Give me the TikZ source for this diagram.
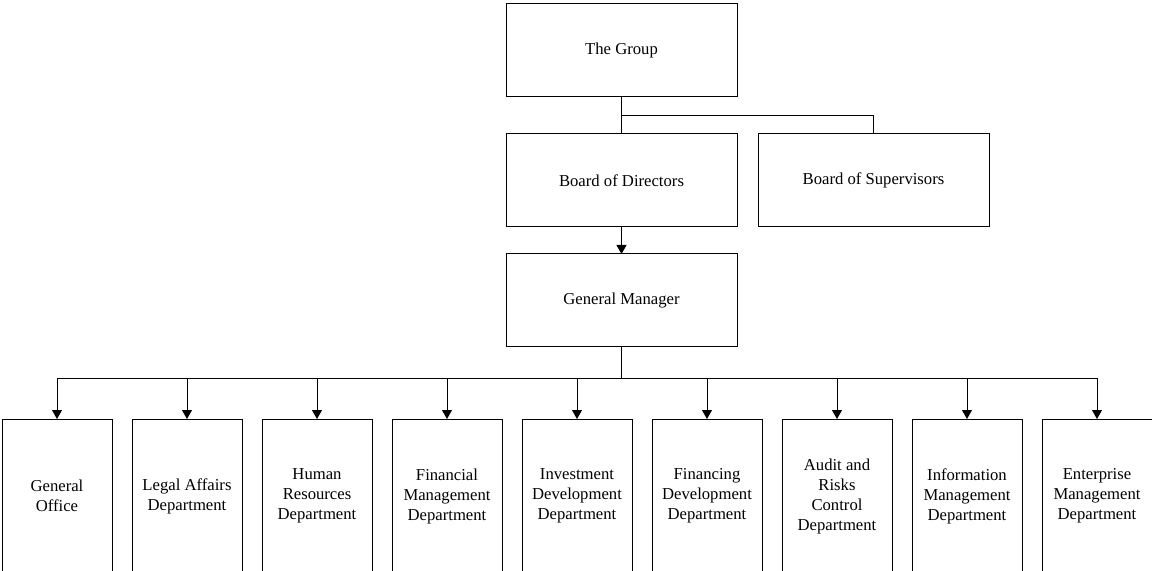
\documentclass[tikz,border=0pt]{standalone}
\usepackage{fontspec}
\setmainfont{Liberation Serif}
\usetikzlibrary{
    arrows.meta,
    calc,
    positioning
}
\tikzset{
    every picture/.style = {
        > = {Triangle[length = 5.4pt, width = 6pt]},
        line width = 0.6pt
    },
    every node/.style = {
        outer sep = 0pt,
        align = center
    },
    box/.style = {
        draw,
        minimum width = 138.6pt,
        minimum height = 55.8pt
    },
    dept/.style = {
        draw,
        inner sep = 0pt,
        minimum width = 66pt,
        minimum height = 92.4pt
    }
}

\begin{document}
\begin{tikzpicture}[x = 0.6pt, y = -0.6pt, node font = \fontsize{10}{12}\selectfont]
    \clip (0,0) rectangle (1152,571);

    \node[box] (group) at (621.5,50.5) {The Group};
    \node[box] [below = 22.2pt of group] (directors) {Board of Directors};
    \node[box] [right = 12.6pt of directors] (supervisors) {Board of Supervisors};
    \node[box] [below = 16.2pt of directors] (manager) {General Manager};

    \node[dept] (office) at (57,496) {General\\Office};
    \node[dept] [right = 12pt of office] (legal) {Legal Affairs\\Department};
    \node[dept] [right = 12pt of legal] (hr) {Human\\Resources\\Department};
    \node[dept] [right = 12pt of hr] (finance) {Financial\\Management\\Department};
    \node[dept] [right = 12pt of finance] (invest) {Investment\\Development\\Department};
    \node[dept] [right = 12pt of invest] (financing) {Financing\\Development\\Department};
    \node[dept] [right = 12pt of financing] (audit) {Audit and\\Risks\\Control\\Department};
    \node[dept] [right = 12pt of audit] (info) {Information\\Management\\Department};
    \node[dept] [right = 12pt of info] (enterprise) {Enterprise\\Management\\Department};

    \coordinate (split) at ($(group.south)!0.5!(directors.north)$);
    \coordinate [below = 19.2pt of manager.south] (bus);

    \draw (group) -- (directors);
    \draw (split) -| (supervisors);
    \draw[->] (directors) -- (manager);
    \draw (manager) -- (bus);

    \draw[->] (bus) -| (office);
    \draw[->] (bus) -| (legal);
    \draw[->] (bus) -| (hr);
    \draw[->] (bus) -| (finance);
    \draw[->] (bus) -| (invest);
    \draw[->] (bus) -| (financing);
    \draw[->] (bus) -| (audit);
    \draw[->] (bus) -| (info);
    \draw[->] (bus) -| (enterprise);
\end{tikzpicture}
\end{document}
